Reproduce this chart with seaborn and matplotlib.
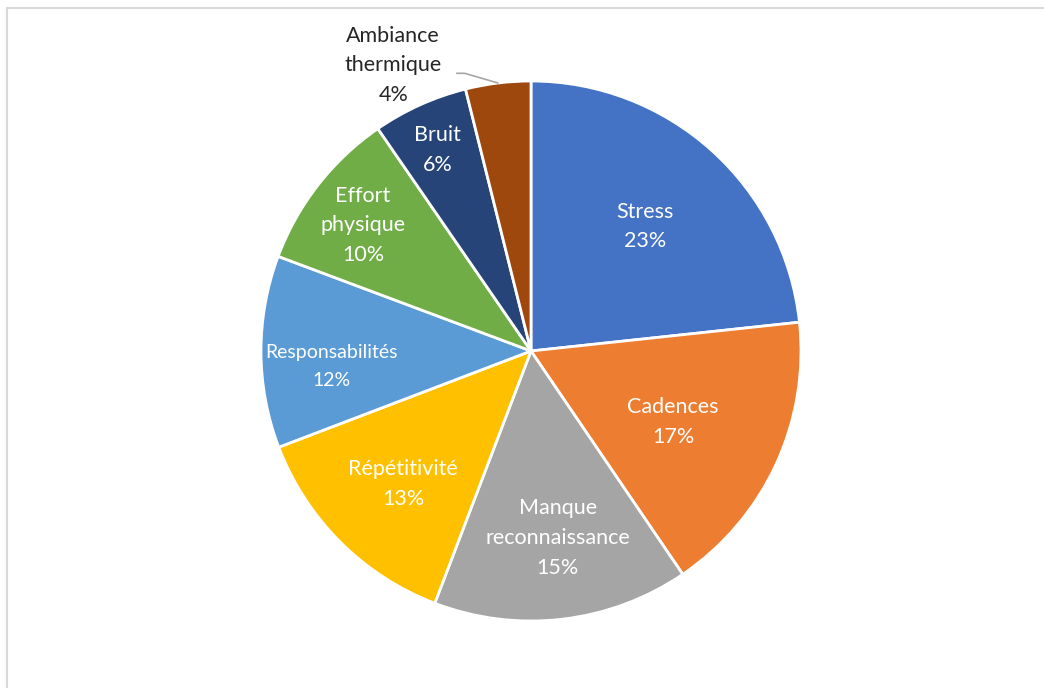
import numpy as np
import matplotlib
matplotlib.use("Agg")
import matplotlib.pyplot as plt
import seaborn as sns
from matplotlib.patches import Rectangle

categories = ["Stress", "Cadences", "Manque\nreconnaissance", "Répétitivité",
              "Responsabilités", "Effort\nphysique", "Bruit", "Ambiance\nthermique"]
values = [23.3, 17.2, 15.3, 13.4, 11.5, 9.7, 5.7, 3.9]
colors = ["#4472C4", "#ED7D31", "#A5A5A5", "#FFC000",
          "#5B9BD5", "#70AD47", "#264478", "#9E480E"]
label_radius = [0.63, 0.58, 0.69, 0.67, 0.74, 0.78, 0.83, 1.185]
# small pixel nudges of the label centres (dx, dy; dy positive = down)
label_nudge = [(0, 2), (0, 5), (5, 2), (0, 5), (0, 15), (-2, 4), (-1, 3), (0, 3)]
label_size = [15.5, 15.5, 15.5, 15.5, 14.0, 15.5, 15.5, 15.5]

sns.set_style("white")
plt.rcParams['font.family'] = ['Lato', 'DejaVu Sans']

W, H = 1044, 688
fig = plt.figure(figsize=(W / 100, H / 100), dpi=100)
cx, cy, R = 531, 351, 270
ax = fig.add_axes([(cx - R) / W, (H - cy - R) / H, 2 * R / W, 2 * R / H])

wedges, _ = ax.pie(values, colors=colors, startangle=90, counterclock=False,
                   wedgeprops=dict(edgecolor="white", linewidth=2))
ax.set_xlim(-1, 1)
ax.set_ylim(-1, 1)
ax.set_aspect("equal")
ax.axis("off")

total = sum(values)
for i, (w, cat, v) in enumerate(zip(wedges, categories, values)):
    mid = np.deg2rad((w.theta1 + w.theta2) / 2)
    r = label_radius[i]
    ndx, ndy = label_nudge[i]
    fs = label_size[i]
    ls = 1.6 * 15.5 / fs
    pct = f"{int(100 * v / total + 0.5)}%"
    txt = f"{cat}\n{pct}"
    if r > 1:
        ang = np.deg2rad(115.5)
        x, y = r * np.cos(ang) + ndx / R, r * np.sin(ang) - ndy / R
        ax.text(x, y, txt, ha="center", va="center", color="#262626",
                fontsize=fs, linespacing=ls, clip_on=False)
        ex, ey = np.cos(mid), np.sin(mid)
        ax.plot([x + 0.235, x + 0.265, ex], [y - 0.03, y - 0.03, ey],
                color="#A6A6A6", lw=1.2, clip_on=False)
    else:
        x, y = r * np.cos(mid) + ndx / R, r * np.sin(mid) - ndy / R
        ax.text(x, y, txt, ha="center", va="center", color="white",
                fontsize=fs, linespacing=ls)

fig.patches.append(Rectangle((7 / W, -0.1), 1.2, 1 - 8 / H + 0.1,
                             transform=fig.transFigure, fill=False,
                             edgecolor="#D9D9D9", linewidth=1.5))

fig.savefig("out.png", dpi=100, facecolor="white")
